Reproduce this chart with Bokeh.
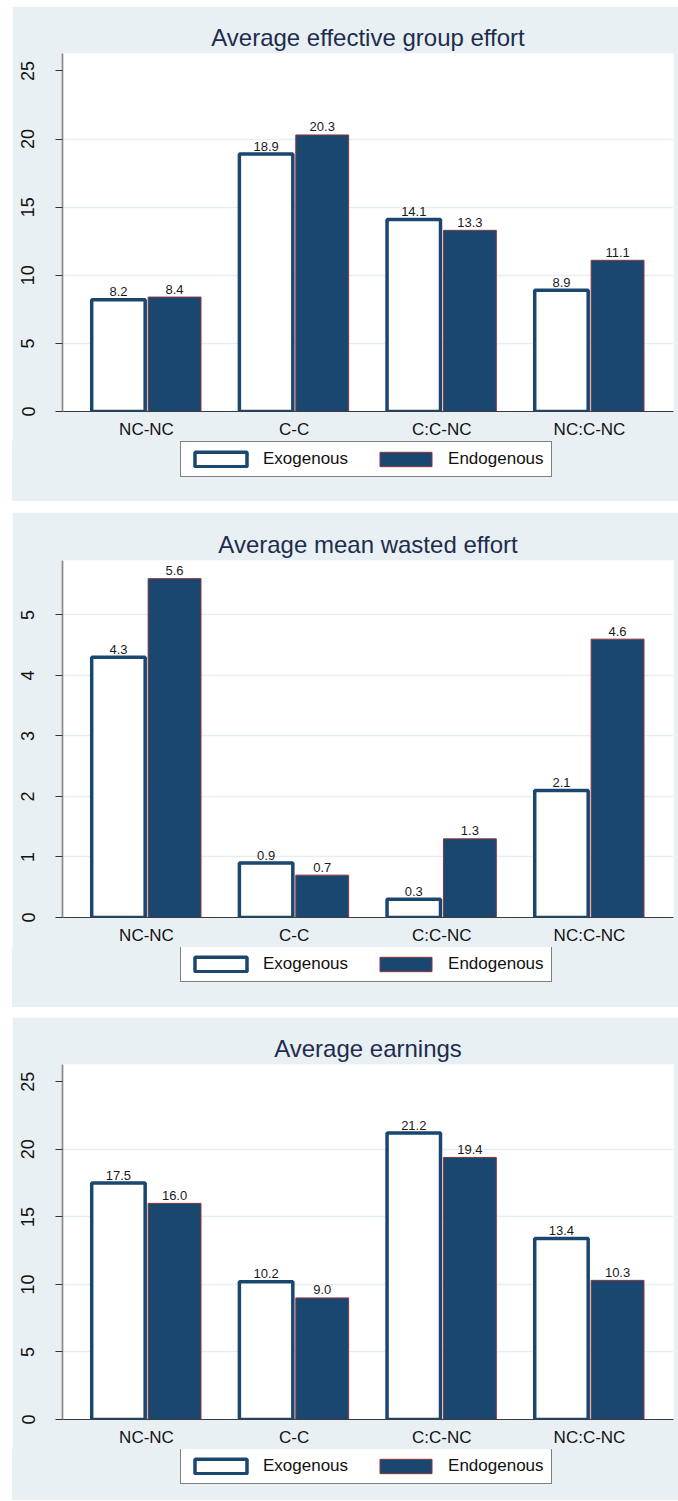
from bokeh.plotting import figure
from bokeh.models import ColumnDataSource, FactorRange, Range1d, FixedTicker, Legend, LegendItem
from bokeh.transform import dodge
from bokeh.layouts import column
from bokeh.embed import file_html
from bokeh.resources import INLINE
from bokeh.core.properties import value

categories = ["NC-NC", "C-C", "C:C-NC", "NC:C-NC"]
series_names = ["Exogenous", "Endogenous"]
titles = ["Average effective group effort", "Average mean wasted effort", "Average earnings"]

effort_exo = [8.2, 18.9, 14.1, 8.9]
effort_endo = [8.4, 20.3, 13.3, 11.1]
wasted_exo = [4.3, 0.9, 0.3, 2.1]
wasted_endo = [5.6, 0.7, 1.3, 4.6]
earn_exo = [17.5, 10.2, 21.2, 13.4]
earn_endo = [16.0, 9.0, 19.4, 10.3]

ticks_big = [0, 5, 10, 15, 20, 25]
grid_big = [5, 10, 15, 20]
ticks_small = [0, 1, 2, 3, 4, 5]
grid_small = [1, 2, 3, 4, 5]

FONT = "Liberation Sans"
BG = "#e9f0f3"
NAVY = "#1a476f"
MAROON = "#90353b"
TITLE_C = "#1e2d4e"

EXO_STYLE = dict(fill_color="white", line_color=NAVY, line_width=3.5)
ENDO_STYLE = dict(fill_color=NAVY, line_color=MAROON, line_width=1)


def make_source(exo, endo):
    return ColumnDataSource(dict(
        cat=categories, exo=exo, endo=endo,
        exo_lbl=["%.1f" % v for v in exo],
        endo_lbl=["%.1f" % v for v in endo],
    ))


def make_panel(src, title, ymax, ticks, grid, height, top_border, margin_top):
    p = figure(
        x_range=FactorRange(factors=categories, range_padding=0.0344, range_padding_units="percent"),
        y_range=Range1d(0, ymax),
        width=666, height=height,
        output_backend="svg", toolbar_location=None,
        min_border_left=50, min_border_right=5,
        min_border_top=top_border, min_border_bottom=30,
    )
    p.margin = (margin_top, 0, 0, 12)
    p.border_fill_color = BG
    p.background_fill_color = "white"
    p.outline_line_color = None

    p.title.text = title
    p.title.align = "center"
    p.title.text_font = FONT
    p.title.text_font_size = "24px"
    p.title.text_font_style = "normal"
    p.title.text_color = TITLE_C
    p.title.standoff = 5

    p.vbar(x=dodge("cat", -0.19, range=p.x_range), top="exo", width=0.362, source=src, **EXO_STYLE)
    p.vbar(x=dodge("cat", 0.19, range=p.x_range), top="endo", width=0.358, source=src, **ENDO_STYLE)

    p.text(x=dodge("cat", -0.19, range=p.x_range), y="exo", text="exo_lbl", source=src,
           text_align="center", text_baseline="alphabetic", y_offset=-8,
           text_font=value(FONT), text_font_size="13px", text_color="#1a1a1a")
    p.text(x=dodge("cat", 0.19, range=p.x_range), y="endo", text="endo_lbl", source=src,
           text_align="center", text_baseline="alphabetic", y_offset=-8,
           text_font=value(FONT), text_font_size="13px", text_color="#1a1a1a")

    # y axis
    p.yaxis.ticker = FixedTicker(ticks=ticks)
    p.yaxis.axis_line_color = "#8a8a8a"
    p.yaxis.axis_line_width = 1.7
    p.yaxis.major_tick_line_color = "#333333"
    p.yaxis.major_tick_out = 7
    p.yaxis.major_tick_in = 0
    p.yaxis.minor_tick_line_color = None
    p.yaxis.major_label_orientation = "vertical"
    p.yaxis.major_label_standoff = 21
    p.yaxis.major_label_text_font = FONT
    p.yaxis.major_label_text_font_size = "18px"
    p.yaxis.major_label_text_color = "#111111"

    # x axis
    p.xaxis.axis_line_color = "#3c3c3c"
    p.xaxis.axis_line_width = 1
    p.xaxis.major_tick_line_color = None
    p.xaxis.major_tick_out = 0
    p.xaxis.major_tick_in = 0
    p.xaxis.minor_tick_line_color = None
    p.xaxis.major_label_standoff = 8
    p.xaxis.major_label_text_font = FONT
    p.xaxis.major_label_text_font_size = "17px"
    p.xaxis.major_label_text_color = "#111111"

    # grid
    p.xgrid.visible = False
    p.ygrid.ticker = FixedTicker(ticks=grid)
    p.ygrid.grid_line_color = "#e6eef2"
    p.ygrid.grid_line_width = 1.5
    return p


def make_legend(src, height, legend_bottom):
    # legend strip under each panel; its renderers are hidden, only the legend shows
    q = figure(x_range=FactorRange(factors=categories), y_range=Range1d(0, 30),
               width=666, height=height, output_backend="svg", toolbar_location=None,
               x_axis_location=None, y_axis_location=None,
               min_border_left=50, min_border_right=5, min_border_top=0, min_border_bottom=0)
    q.margin = (0, 0, 0, 12)
    q.border_fill_color = None
    q.background_fill_color = None
    q.styles = {"background-color": BG}
    q.outline_line_color = None
    q.xgrid.visible = False
    q.ygrid.visible = False
    r_exo = q.vbar(x="cat", top="exo", width=0.36, source=src, **EXO_STYLE)
    r_endo = q.vbar(x="cat", top="endo", width=0.36, source=src, **ENDO_STYLE)
    r_exo.visible = False
    r_endo.visible = False
    legend = Legend(
        items=[LegendItem(label=series_names[0], renderers=[r_exo], index=0),
               LegendItem(label=series_names[1], renderers=[r_endo], index=0)],
        orientation="horizontal", location=(118, legend_bottom),
        glyph_width=65, glyph_height=18, label_height=18, label_standoff=10, spacing=25, padding=7,
        border_line_color="black", border_line_width=1,
        background_fill_color="white", background_fill_alpha=1.0,
        inactive_fill_alpha=0.0,
        label_text_font=FONT, label_text_font_size="17px", label_text_color="#111111",
        margin=0,
    )
    q.add_layout(legend, "center")
    return q


s1 = make_source(effort_exo, effort_endo)
s2 = make_source(wasted_exo, wasted_endo)
s3 = make_source(earn_exo, earn_endo)

p1 = make_panel(s1, titles[0], 26.28, ticks_big, grid_big, 435, 47, 6)
l1 = make_legend(s1, 60, 24)
p2 = make_panel(s2, titles[1], 5.9, ticks_small, grid_small, 435, 48, 11)
l2 = make_legend(s2, 60, 25)
p3 = make_panel(s3, titles[2], 26.28, ticks_big, grid_big, 432, 47, 10)
l3 = make_legend(s3, 51, 16)

layout = column(p1, l1, p2, l2, p3, l3, spacing=0)

with open("out.html", "w") as f:
    f.write(file_html(layout, INLINE))
